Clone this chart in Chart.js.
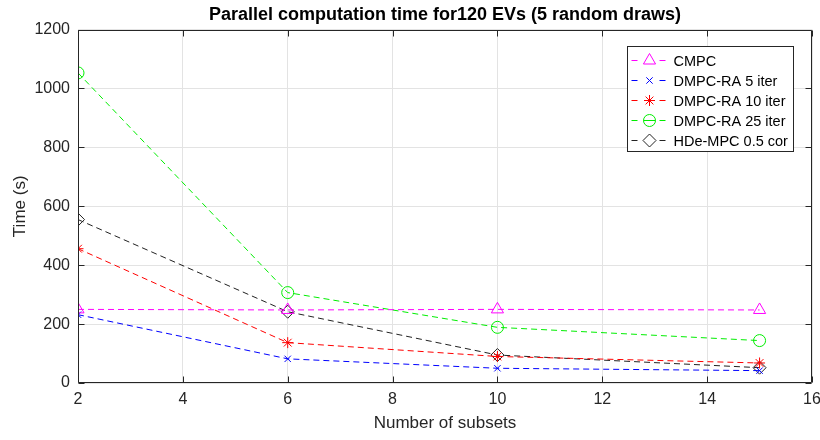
<!DOCTYPE html>
<html>
<head>
<meta charset="utf-8">
<script src="https://cdn.jsdelivr.net/npm/chart.js@4/dist/chart.umd.min.js"></script>
<style>
  html, body { margin: 0; padding: 0; background: #fff; }
  #wrap { width: 820px; height: 440px; position: relative; }
</style>
</head>
<body>
<div id="wrap"><canvas id="c" width="820" height="440"></canvas></div>
<script>
const subsets = [2, 6, 10, 15];
const cmpc = [250, 248, 250, 248];
const dmpc5 = [232, 82, 50, 42];
const dmpc10 = [456, 137, 90, 68];
const dmpc25 = [1053, 307, 189, 144];
const hde = [555, 242, 95, 52];
const xTicks = [2, 4, 6, 8, 10, 12, 14, 16];
const yTicks = [0, 200, 400, 600, 800, 1000, 1200];
const seriesNames = ['CMPC', 'DMPC-RA 5 iter', 'DMPC-RA 10 iter', 'DMPC-RA 25 iter', 'HDe-MPC 0.5 cor'];

const FONT = 'Arial, "Liberation Sans", Helvetica, sans-serif';

function mk(label, vals, color, style, radius) {
  return {
    label: label,
    data: subsets.map((x, i) => ({ x: x, y: vals[i] })),
    borderColor: color,
    backgroundColor: 'rgba(0,0,0,0)',
    pointBorderColor: color,
    pointBackgroundColor: 'rgba(0,0,0,0)',
    pointStyle: style,
    pointRadius: radius,
    pointBorderWidth: 1,
    borderWidth: 1,
    borderDash: [6, 4],
    tension: 0,
    fill: false
  };
}

const datasets = [
  mk(seriesNames[0], cmpc, '#ff00ff', 'triangle', 7),
  mk(seriesNames[1], dmpc5, '#0000ff', 'crossRot', 4.5),
  mk(seriesNames[2], dmpc10, '#ff0000', 'star', 5.5),
  mk(seriesNames[3], dmpc25, '#00ee00', 'circle', 6),
  mk(seriesNames[4], hde, '#222222', 'rectRot', 6.5)
];

const frame = {
  id: 'frame',
  beforeDraw(chart) {
    const ctx = chart.ctx;
    ctx.save();
    ctx.fillStyle = '#fff';
    ctx.fillRect(0, 0, chart.width, chart.height);
    ctx.restore();
  },
  afterDatasetsDraw(chart) {
    const ctx = chart.ctx;
    const a = chart.chartArea;
    const xs = chart.scales.x, ys = chart.scales.y;
    ctx.save();
    ctx.strokeStyle = '#262626';
    ctx.lineWidth = 1;
    ctx.beginPath();
    const L = Math.round(a.left) + 0.5, R = Math.round(a.right) - 0.5;
    const T = Math.round(a.top) + 0.5, B = Math.round(a.bottom) - 0.5;
    ctx.rect(L, T, R - L, B - T);
    const tl = 6;
    xTicks.forEach(v => {
      const px = Math.round(xs.getPixelForValue(v)) + 0.5;
      ctx.moveTo(px, B); ctx.lineTo(px, B - tl);
      ctx.moveTo(px, T); ctx.lineTo(px, T + tl);
    });
    yTicks.forEach(v => {
      const py = Math.round(ys.getPixelForValue(v)) + 0.5;
      ctx.moveTo(L, py); ctx.lineTo(L + tl, py);
      ctx.moveTo(R, py); ctx.lineTo(R - tl, py);
    });
    ctx.stroke();

    // legend box
    const bw = 166, rowH = 20;
    const bx = Math.round(a.right - 19 - bw) + 0.5;
    const by = Math.round(a.top + 16) + 0.5;
    const bh = rowH * chart.data.datasets.length + 5;
    ctx.fillStyle = '#fff';
    ctx.fillRect(bx, by, bw, bh);
    ctx.strokeStyle = '#262626';
    ctx.strokeRect(bx, by, bw, bh);
    ctx.font = '14.5px ' + FONT;
    ctx.textBaseline = 'middle';
    ctx.textAlign = 'left';
    chart.data.datasets.forEach((ds, i) => {
      const cy = Math.round(by + 13 + i * rowH) + 0.5;
      const mx = bx + 22;
      ctx.save();
      ctx.strokeStyle = ds.borderColor;
      ctx.lineWidth = 1;
      ctx.beginPath();
      ctx.moveTo(bx + 4, cy); ctx.lineTo(bx + 10, cy);
      ctx.moveTo(bx + 32, cy); ctx.lineTo(bx + 38, cy);
      if (ds.pointStyle === 'circle') { ctx.moveTo(mx - 6, cy); ctx.lineTo(mx + 6, cy); }
      ctx.stroke();
      ctx.fillStyle = 'rgba(0,0,0,0)';
      Chart.helpers.drawPoint(ctx, { pointStyle: ds.pointStyle, radius: ds.pointRadius, borderWidth: 1, rotation: 0 }, mx, cy);
      ctx.restore();
      ctx.fillStyle = '#000';
      ctx.fillText(ds.label, bx + 46, cy + 1);
    });
    ctx.restore();
  }
};

new Chart(document.getElementById('c'), {
  type: 'line',
  data: { datasets: datasets },
  plugins: [frame],
  options: {
    responsive: false,
    animation: false,
    layout: { padding: { left: 0, right: 0, top: 0, bottom: 0 } },
    plugins: {
      legend: { display: false },
      tooltip: { enabled: false },
      title: {
        display: true,
        fullSize: false,
        text: 'Parallel computation time for120 EVs (5 random draws)',
        color: '#000',
        font: { family: FONT, size: 18, weight: 'bold', lineHeight: 1.2 },
        padding: { top: 4, bottom: 4 }
      }
    },
    scales: {
      x: {
        type: 'linear',
        min: 2, max: 16,
        afterBuildTicks: s => { s.ticks = xTicks.map(v => ({ value: v })); },
        afterFit: s => { s.height = 57; s.paddingLeft = 0; s.paddingRight = 8; },
        grid: { color: '#e3e3e3', lineWidth: 1, drawTicks: false },
        border: { display: false },
        ticks: { color: '#262626', padding: 7, font: { family: FONT, size: 16 }, maxRotation: 0, autoSkip: false, callback: v => String(v) },
        title: { display: true, text: 'Number of subsets', color: '#262626', font: { family: FONT, size: 17 }, padding: { top: 0, bottom: 6 } }
      },
      y: {
        type: 'linear',
        min: 0, max: 1200,
        afterBuildTicks: s => { s.ticks = yTicks.map(v => ({ value: v })); },
        afterFit: s => { s.width = 78; s.paddingTop = 0; s.paddingBottom = 0; },
        grid: { color: '#e3e3e3', lineWidth: 1, drawTicks: false },
        border: { display: false },
        ticks: { color: '#262626', padding: 8, font: { family: FONT, size: 16 }, autoSkip: false, callback: v => String(v) },
        title: { display: true, text: 'Time (s)', color: '#262626', font: { family: FONT, size: 17 }, padding: { top: 10, bottom: 0 } }
      }
    }
  }
});
</script>
</body>
</html>
